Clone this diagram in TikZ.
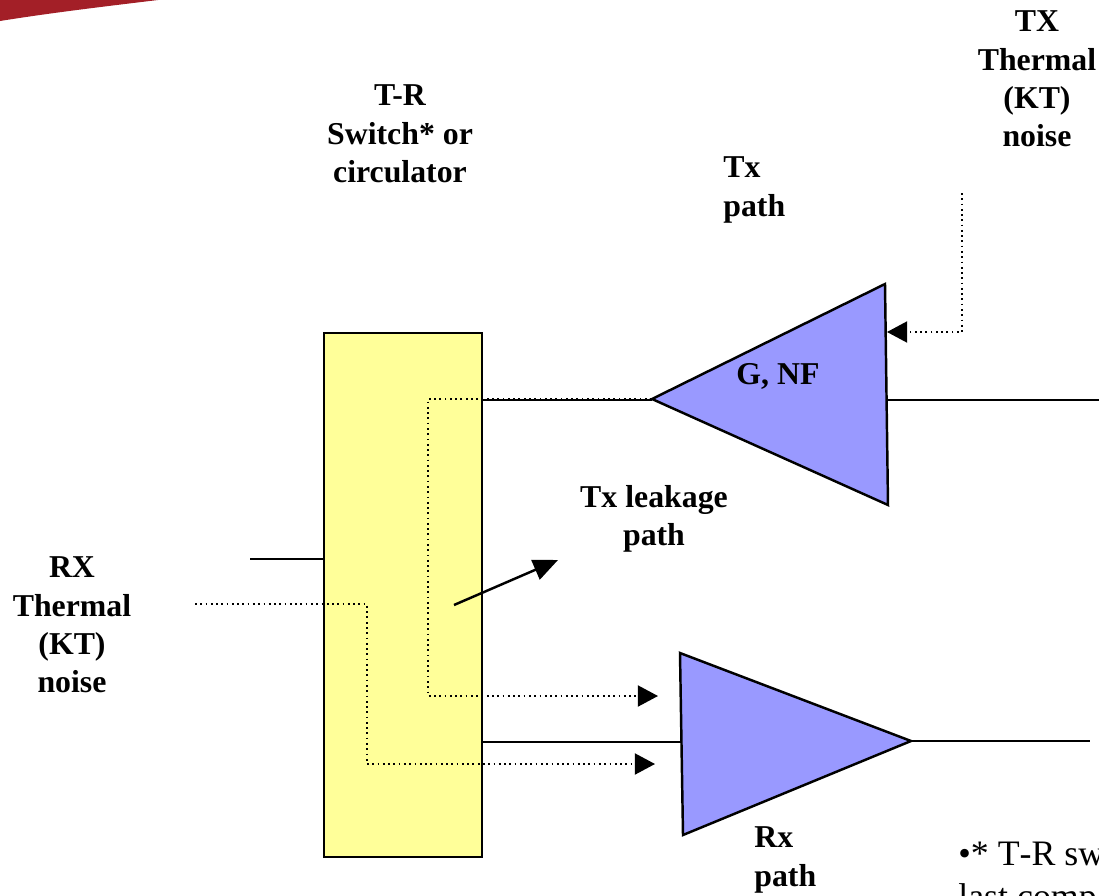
\documentclass[tikz,border=0pt]{standalone}
\usepackage{fontspec}
\setmainfont{Liberation Serif}
\newfontface\notefont{Liberation Serif}[Kerning=Off]
\usetikzlibrary{arrows.meta}
\definecolor{boxyellow}{RGB}{255,255,153}
\definecolor{ampblue}{RGB}{153,153,255}
\definecolor{swooshred}{RGB}{163,31,39}
\tikzset{
  sig/.style={black,line width=1.4pt},
  noise/.style={black,line width=1.1pt,dash pattern=on 1pt off 2pt},
  noisetip/.style={-{Triangle[length=11.5pt,width=12pt]}},
  lbl/.style={inner sep=0pt,font=\bfseries\fontsize{18.1}{21.9}\selectfont}
}
\begin{document}
\begin{tikzpicture}[x=0.02cm,y=0.02cm]
\useasboundingbox (0,0) rectangle (1099,-896);
\clip (0,0) rectangle (1099,-896);
\fill [swooshred] (0,-21) .. controls (50,-13) and (100,-7) .. (158,0) -- (0,0) -- cycle;
% switch
\node (switchbox) [draw=black,fill=boxyellow,line width=1.4pt,inner sep=0pt,minimum width=3.16cm,minimum height=10.48cm] at (403,-595) {};
% tx amplifier
\coordinate (txtip) at (652,-399);
\coordinate (txtop) at (885,-284);
\coordinate (txbot) at (888,-505);
\draw [sig,fill=ampblue] (txtip) -- (txtop) -- (txbot) -- cycle;
% rx amplifier
\coordinate (rxtop) at (680,-653);
\coordinate (rxbot) at (683,-835);
\coordinate (rxtip) at (911,-741);
\draw [sig,fill=ampblue] (rxtop) -- (rxtip) -- (rxbot) -- cycle;
% signal lines
\coordinate (txout) at (887,-400);
\coordinate (txend) at (1099,-400);
\coordinate (rxend) at (1090,-741);
\coordinate (antin) at (250,-559);
\coordinate (rxin) at (681,-742);
\draw [sig] (txtip |- txout) -- (txout -| switchbox.east);
\draw [sig] (txout) -- (txend);
\draw [sig] (rxtip) -- (rxend);
\draw [sig] (antin) -- (antin -| switchbox.west);
\draw [sig] (rxin -| switchbox.east) -- (rxin);
% noise paths
\coordinate (txnoise) at (962,-193);
\coordinate (txnoisein) at (887,-332);
\coordinate (rxnoise) at (195,-604);
\coordinate (rxnoisein) at (655,-764);
\coordinate (leakin) at (658,-696);
\draw [noise,noisetip] (txnoise) |- (txnoisein);
\draw [noise,noisetip] (rxnoise) -| (367,-764) -- (rxnoisein);
\draw [noise,noisetip] (txtip) -- (428,-399) |- (leakin);
% leakage pointer
\coordinate (leakfrom) at (454,-605);
\coordinate (leakto) at (558,-560);
\draw [sig,-{Triangle[length=14pt,width=12pt]}] (leakfrom) -- (leakto);
% labels
\node (swlabel) [lbl,align=center] at (400,-134) {T-R\\Switch* or\\circulator};
\node (txlabel) [lbl,align=left,anchor=west] at (723,-190) {Tx\\path};
\node (txnoiselabel) [lbl,align=center] at (1037,-79) {TX\\Thermal\\(KT)\\noise};
\node (amplabel) [lbl] at (778,-376) {G, NF};
\node (leaklabel) [lbl,align=center] at (654,-519) {Tx leakage\\path};
\node (rxnoiselabel) [lbl,align=center] at (72,-625) {RX\\Thermal\\(KT)\\noise};
\node (rxlabel) [lbl,align=left,anchor=west] at (754,-860) {Rx\\path};
\node (notelabel) [inner sep=0pt,align=left,anchor=north west,font=\notefont\fontsize{20.4}{24.5}\selectfont] at (958,-842) {•* T-R sw\\last comp};
\end{tikzpicture}
\end{document}
